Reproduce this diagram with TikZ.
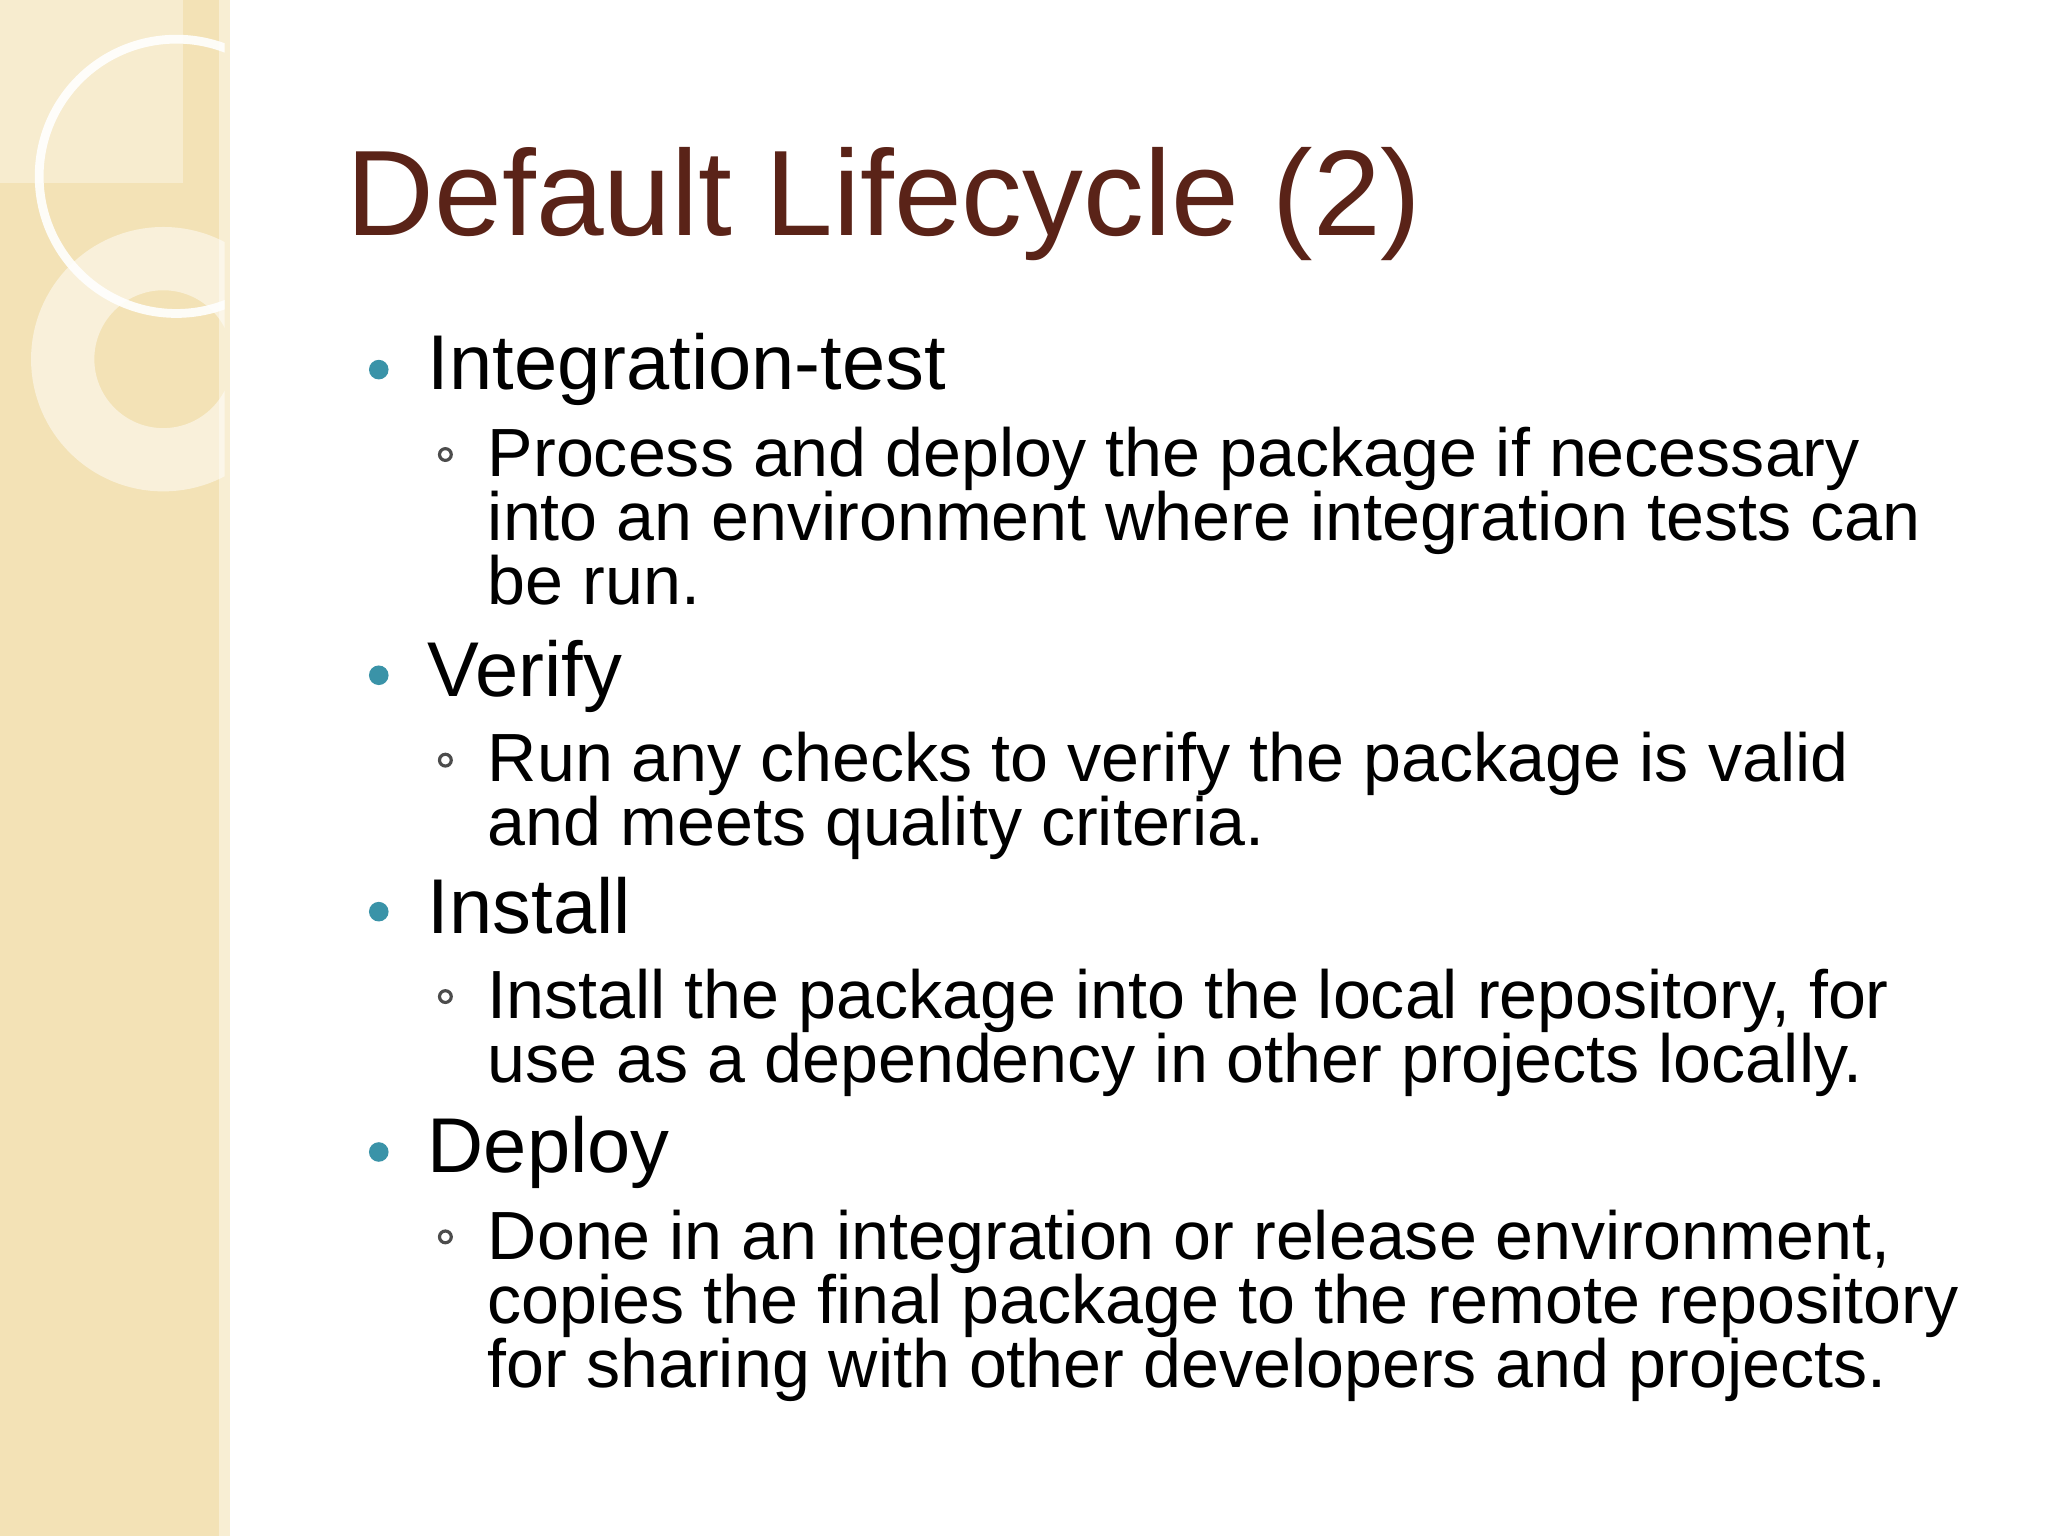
\documentclass[tikz,border=0pt]{standalone}
\usepackage{fontspec}
\setmainfont{Liberation Sans}
\begin{document}
\begin{tikzpicture}[x=0.013061cm,y=-0.013061cm,
  title/.style={anchor=base west,inner sep=0,text=titlebrown,font=\fontsize{34.6pt}{40pt}\selectfont},
  lone/.style={anchor=base west,inner sep=0,font=\fontsize{22.1pt}{26pt}\selectfont},
  ltwo/.style={anchor=base west,inner sep=0,font=\fontsize{19.4pt}{23pt}\selectfont}]
\definecolor{titlebrown}{HTML}{5A2318}
\definecolor{strip}{HTML}{F3E2B6}
\definecolor{teal}{HTML}{3A93A8}
\useasboundingbox (0,0) rectangle (1568,1176);
\fill[white] (0,0) rectangle (1568,1176);
\fill[strip] (0,0) rectangle (172,1176);
\fill[strip!60!white] (168,0) rectangle (176,1176);
\begin{scope}
\clip (0,0) rectangle (172,1176);
\fill[white,opacity=0.35] (0,0) rectangle (140,140);
\draw[white,opacity=0.9,line width=2.5] (135,135) circle (105);
\draw[white,opacity=0.5,line width=18] (125,275) circle (77);
\end{scope}
\node[title] (t) at (265,180) {Default Lifecycle (2)};
\foreach \y in {283,517,698,882} \fill[teal] (290,\y) circle (7.5);
\foreach \y in {348,582,763,947} \draw[black!70,line width=0.9] (341,\y) circle (4.5);
\node[lone] (a) at (327,298) {Integration-test};
\node[ltwo] (a1) at (373,365) {Process and deploy the package if necessary};
\node[ltwo] (a2) at (373,414) {into an environment where integration tests can};
\node[ltwo] (a3) at (373,463) {be run.};
\node[lone] (b) at (327,533) {Verify};
\node[ltwo] (b1) at (373,598) {Run any checks to verify the package is valid};
\node[ltwo] (b2) at (373,647) {and meets quality criteria.};
\node[lone] (c) at (327,715) {Install};
\node[ltwo] (c1) at (373,780) {Install the package into the local repository, for};
\node[ltwo] (c2) at (373,829) {use as a dependency in other projects locally.};
\node[lone] (d) at (327,898) {Deploy};
\node[ltwo] (d1) at (373,964) {Done in an integration or release environment,};
\node[ltwo] (d2) at (373,1013) {copies the final package to the remote repository};
\node[ltwo] (d3) at (373,1062) {for sharing with other developers and projects.};
\end{tikzpicture}
\end{document}
